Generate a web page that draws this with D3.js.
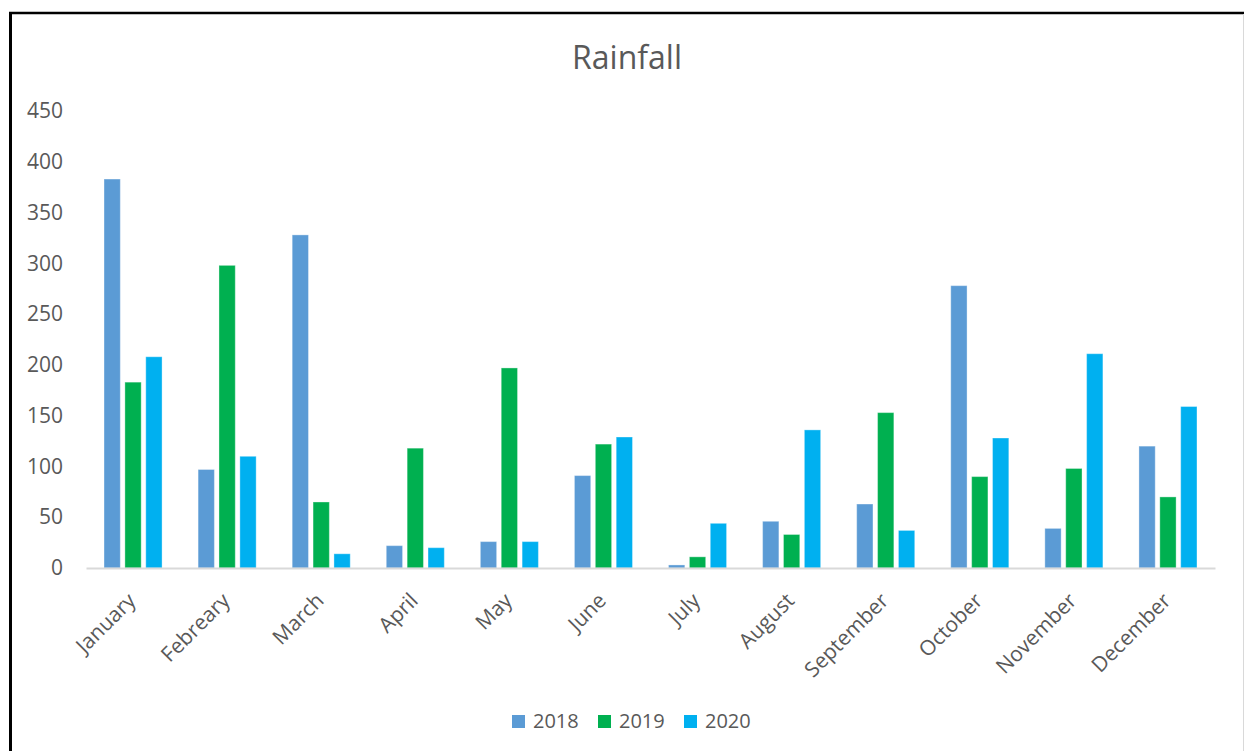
<!DOCTYPE html>
<html>
<head>
<meta charset="utf-8">
<script src="https://cdn.jsdelivr.net/npm/d3@7"></script>
<style>
  body { margin: 0; background: #fff; }
  text { font-family: "Open Sans", sans-serif; fill: #595959; }
</style>
</head>
<body>
<div id="chart"></div>
<script>
const months = ["January", "Febreary", "March", "April", "May", "June",
                "July", "August", "September", "October", "November", "December"];
const years = ["2018", "2019", "2020"];
const rain2018 = [383, 97, 328, 22, 26, 91, 3, 46, 63, 278, 39, 120];
const rain2019 = [183, 298, 65, 118, 197, 122, 11, 33, 153, 90, 98, 70];
const rain2020 = [208, 110, 14, 20, 26, 129, 44, 136, 37, 128, 211, 159];
const yTicks = [0, 50, 100, 150, 200, 250, 300, 350, 400, 450];
const colors = ["#5b9bd5", "#00b050", "#00b0f0"];

const series = [rain2018, rain2019, rain2020];

const w = 1244,
      h = 751;

const svg = d3.select("#chart")
    .append("svg")
    .attr("width", w)
    .attr("height", h);

// frame
svg.append("line")
    .attr("x1", 9).attr("x2", w).attr("y1", 13).attr("y2", 13)
    .style("stroke", "#000").style("stroke-width", 2.5);
svg.append("line")
    .attr("x1", 10.5).attr("x2", 10.5).attr("y1", 12).attr("y2", h)
    .style("stroke", "#000").style("stroke-width", 3);
svg.append("line")
    .attr("x1", 1243.5).attr("x2", 1243.5).attr("y1", 14).attr("y2", h)
    .style("stroke", "#d9d9d9").style("stroke-width", 1);

svg.append("text")
    .attr("x", 627)
    .attr("y", 69)
    .attr("text-anchor", "middle")
    .style("font-size", "32px")
    .text("Rainfall");

const x0 = d3.scaleBand()
    .domain(months)
    .range([86, 1215])
    .paddingInner(0.383)
    .paddingOuter(0.1915);

const x1 = d3.scaleBand()
    .domain(years)
    .range([0, x0.bandwidth()])
    .paddingInner(0.22);

const y = d3.scaleLinear()
    .domain([0, 450])
    .range([568, 111]);

// y axis labels
const yAxis = svg.append("g")
    .attr("transform", "translate(63,0)")
    .call(d3.axisLeft(y).tickValues(yTicks).tickSize(0).tickPadding(0));
yAxis.select(".domain").remove();
yAxis.selectAll("text")
    .style("font-size", "21px")
    .style("font-family", "'Open Sans', sans-serif")
    .attr("fill", "#595959");

// bars
const groups = svg.selectAll("g.month")
    .data(months)
    .enter()
    .append("g")
    .attr("class", "month")
    .attr("transform", function(d) { return "translate(" + x0(d) + ",0)"; });

groups.selectAll("rect")
    .data(function(d, i) {
        return years.map(function(yr, j) { return {year: yr, value: series[j][i], color: colors[j]}; });
    })
    .enter()
    .append("rect")
    .attr("x", function(d) { return x1(d.year); })
    .attr("y", function(d) { return y(d.value); })
    .attr("width", x1.bandwidth())
    .attr("height", function(d) { return y(0) - y(d.value); })
    .style("fill", function(d) { return d.color; })
    .style("stroke", "#fff")
    .style("stroke-opacity", 0.35)
    .style("stroke-width", 1);

// x axis
const xAxis = svg.append("g")
    .attr("transform", "translate(0,568)")
    .call(d3.axisBottom(x0).tickSize(0).tickSizeOuter(0).tickFormat(""));
xAxis.select(".domain")
    .style("stroke", "#d9d9d9")
    .style("stroke-width", 2);

svg.selectAll("text.month-label")
    .data(months)
    .enter()
    .append("text")
    .attr("class", "month-label")
    .attr("text-anchor", "end")
    .attr("transform", function(d) {
        const cx = x0(d) + x0.bandwidth() / 2;
        return "translate(" + (cx + 4) + ",602) rotate(-45)";
    })
    .style("font-size", "21px")
    .text(function(d) { return d; });

// legend
const legend = svg.selectAll("g.legend")
    .data(years)
    .enter()
    .append("g")
    .attr("class", "legend")
    .attr("transform", function(d, i) { return "translate(" + (512 + i * 86) + ",715)"; });

legend.append("rect")
    .attr("width", 13)
    .attr("height", 13)
    .style("fill", function(d, i) { return colors[i]; });

legend.append("text")
    .attr("x", 21)
    .attr("y", 13)
    .style("font-size", "20px")
    .text(function(d) { return d; });
</script>
</body>
</html>
